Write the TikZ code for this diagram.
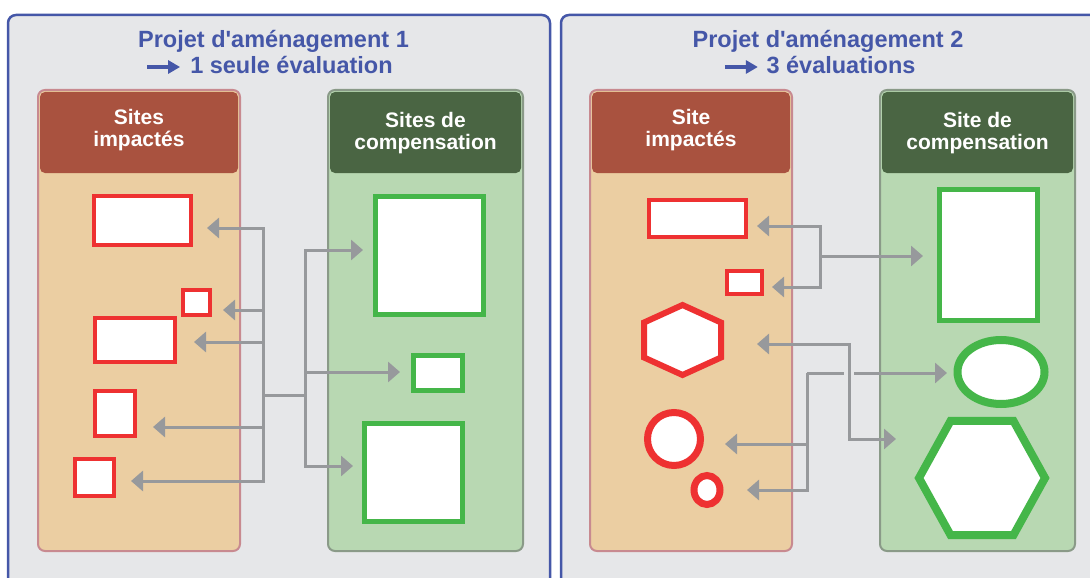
\documentclass[tikz,border=0pt]{standalone}
\usepackage{fontspec}
\setmainfont{Liberation Sans}
\usepackage{tikz}
\usetikzlibrary{arrows.meta,shapes.geometric,calc}
\definecolor{bleu}{HTML}{4557A8}
\definecolor{fond}{HTML}{E6E7E9}
\definecolor{brique}{HTML}{A9523F}
\definecolor{sable}{HTML}{EBCEA2}
\definecolor{rose}{HTML}{C88A90}
\definecolor{sapin}{HTML}{4A6543}
\definecolor{menthe}{HTML}{B8D8B2}
\definecolor{kaki}{HTML}{8A9A88}
\definecolor{rouge}{HTML}{EE3131}
\definecolor{vert}{HTML}{45B649}
\definecolor{gris}{HTML}{97999C}

\tikzset{
  >={Triangle[length=12pt,width=20pt]},
  projet/.style={draw=bleu, line width=2.5pt, fill=fond, rounded corners=8pt},
  titre/.style={text=bleu, font=\bfseries\fontsize{23.5}{26}\selectfont, anchor=base, inner sep=0pt},
  entete/.style={text=white, font=\bfseries\fontsize{21}{22}\selectfont, align=center, inner sep=0pt},
  colonne/.style={line width=2pt, rounded corners=7pt},
  impact/.style={draw=rouge, line width=4pt, fill=white, inner sep=0pt},
  compens/.style={draw=vert, line width=5pt, fill=white, inner sep=0pt},
  lien/.style={draw=gris, line width=3pt, ->},
  fleche/.style={draw=bleu, line width=3.5pt, -{Triangle[length=12pt,width=13pt]}},
}

\begin{document}
\begin{tikzpicture}[x=1pt,y=-1pt]
  \clip (0,0) rectangle (1090,578);

  % Cadres.
  \draw[projet] (8,15) rectangle (550,600);
  \draw[projet] (561,15) rectangle (1110,600);

  % Titres.
  \node[titre] (t1) at (273.5,48) {Projet d\textquotesingle aménagement 1};
  \node[titre] (t1b) at (291.5,74) {1 seule évaluation};
  \draw[fleche] ([shift={(-43pt,7pt)}]t1b.base west) -- ([shift={(-10pt,7pt)}]t1b.base west);
  \node[titre] (t2) at (828,48) {Projet d\textquotesingle aménagement 2};
  \node[titre] (t2b) at (841,74) {3 évaluations};
  \draw[fleche] ([shift={(-41.5pt,7pt)}]t2b.base west) -- ([shift={(-8.5pt,7pt)}]t2b.base west);

  % Projet 1, colonnes.
  \draw[colonne, draw=rose, fill=sable] (38,90) rectangle (240,551);
  \fill[brique, rounded corners=5pt] (40,92) rectangle (238,173);
  \node[entete] (c1) at (139,130) {Sites\\impactés};
  \draw[colonne, draw=kaki, fill=menthe] (328,90) rectangle (523,551);
  \fill[sapin, rounded corners=5pt] (330,92) rectangle (521,173);
  \node[entete] (c2) at (425.5,133) {Sites de\\compensation};

  % Projet 2, colonnes.
  \draw[colonne, draw=rose, fill=sable] (590,90) rectangle (792,551);
  \fill[brique, rounded corners=5pt] (592,92) rectangle (790,173);
  \node[entete] (c3) at (691,130) {Site\\impactés};
  \draw[colonne, draw=kaki, fill=menthe] (880,90) rectangle (1075,551);
  \fill[sapin, rounded corners=5pt] (882,92) rectangle (1073,173);
  \node[entete] (c4) at (977.5,133) {Site de\\compensation};

  % Projet 1, sites.
  \node[impact, minimum width=97pt, minimum height=49pt] (r1) at (142.5,220.5) {};
  \node[impact, minimum width=27pt, minimum height=25pt] (r2) at (196.5,302.5) {};
  \node[impact, minimum width=80pt, minimum height=44pt] (r3) at (135,340) {};
  \node[impact, minimum width=40pt, minimum height=45pt] (r4) at (115,413.5) {};
  \node[impact, minimum width=39pt, minimum height=37pt] (r5) at (94.5,477.5) {};
  \node[compens, minimum width=108pt, minimum height=118pt] (v1) at (429.5,255.5) {};
  \node[compens, minimum width=49pt, minimum height=35pt] (v2) at (438,373) {};
  \node[compens, minimum width=98pt, minimum height=98pt] (v3) at (413.5,472.5) {};

  % Projet 2, sites.
  \node[impact, minimum width=97pt, minimum height=37pt] (s1) at (697.5,218.5) {};
  \node[impact, minimum width=35pt, minimum height=23pt] (s2) at (744.5,282.5) {};
  \begin{scope}[shift={(682.5,340)}, xscale=1.27]
    \draw[impact, line width=6pt] (30:35) \foreach \a in {90,150,...,330} {-- (\a:35)} -- cycle;
  \end{scope}
  \node[impact, circle, line width=7pt, minimum size=53pt] (s4) at (674,439) {};
  \node[impact, ellipse, line width=7pt, minimum width=26pt, minimum height=29pt] (s5) at (707,490) {};
  \node[compens, minimum width=98pt, minimum height=131pt] (w1) at (988.5,255) {};
  \node[compens, ellipse, line width=8pt, minimum width=87pt, minimum height=64pt] (w2) at (1001,372) {};
  \begin{scope}[shift={(982,478)}, yscale=1.045]
    \draw[compens, line width=8pt] (0:63) \foreach \a in {60,120,...,300} {-- (\a:63)} -- cycle;
  \end{scope}

  % Projet 1, liens.
  \coordinate (jg) at (263,395);
  \coordinate (jd) at (305,395);
  \coordinate (a1) at (207,228);
  \coordinate (a2) at (223,310);
  \coordinate (a3) at (194,342);
  \coordinate (a4) at (153,427);
  \coordinate (a5) at (131,481);
  \coordinate (b1) at (363,250);
  \coordinate (b2) at (400,372);
  \coordinate (b3) at (353,466);
  \foreach \t in {a1,a2,a3,a4,a5}
    \draw[lien] (jg) |- (\t);
  \draw[lien, -] (jg) -- (jd);
  \foreach \t in {b1,b2,b3}
    \draw[lien] (jd) |- (\t);

  % Projet 2, liens.
  \coordinate (ka) at (820,256);
  \coordinate (e1) at (757,226);
  \coordinate (e2) at (772,287);
  \coordinate (e3) at (923,256);
  \foreach \t in {e1,e2}
    \draw[lien] (ka) |- (\t);
  \draw[lien] (ka) -- (e3);
  \coordinate (kc) at (807,373);
  \coordinate (g1) at (725,444);
  \coordinate (g2) at (747,490);
  \coordinate (g3) at (947,373);
  \foreach \t in {g1,g2}
    \draw[lien] (kc) |- (\t);
  \draw[lien] (kc) -- (g3);
  \fill[fond] (844,369) rectangle (854,377);
  \coordinate (d1) at (757,344);
  \coordinate (d2) at (896,439);
  \draw[lien, <->] (d1) -- ++(92,0) |- (d2);
\end{tikzpicture}
\end{document}
